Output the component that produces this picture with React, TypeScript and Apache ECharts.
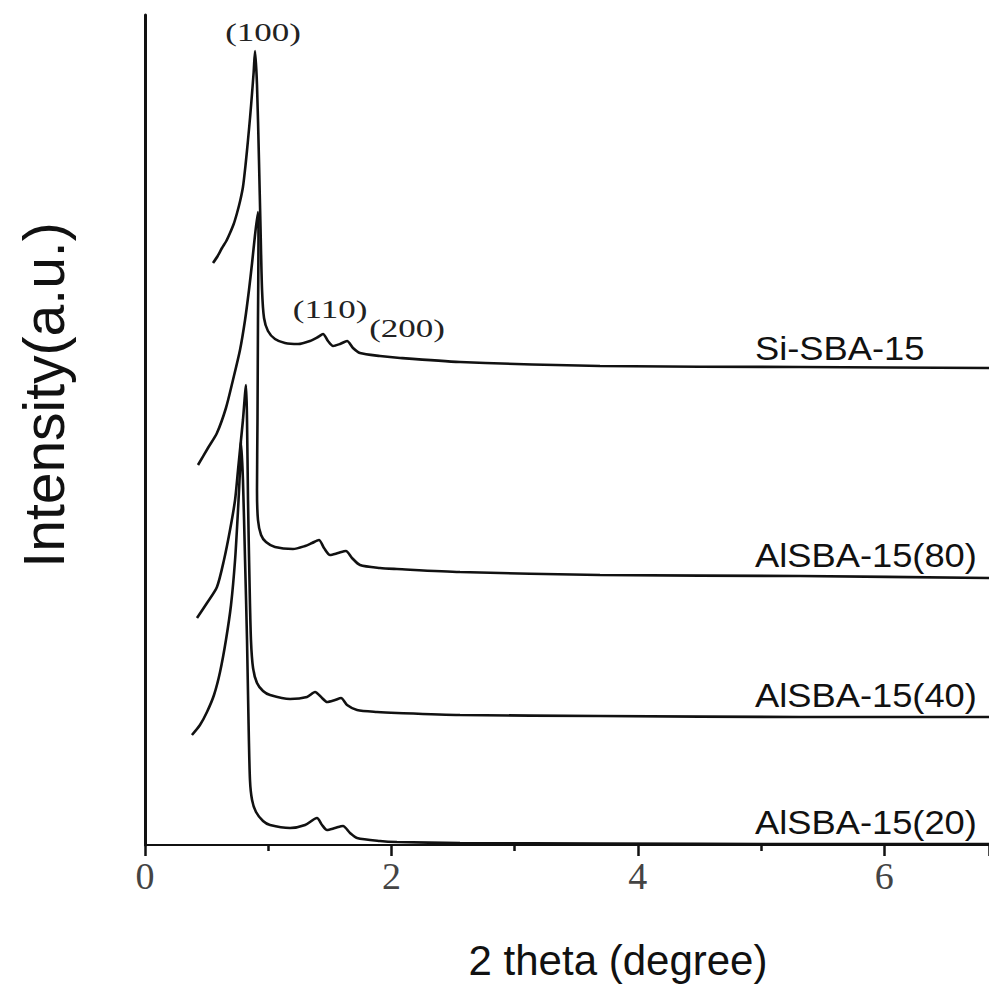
import React, { useEffect, useRef } from "react";
import * as echarts from "echarts";

// 2-theta (degree), intensity (a.u.)
const siSBA15: [number, number][] = [
  [0.552, 582], [0.59, 589], [0.625, 597], [0.66, 604], [0.69, 612], [0.72, 621], [0.747, 632], [0.772, 644],
  [0.795, 658], [0.816, 680], [0.836, 705], [0.853, 728], [0.869, 752], [0.882, 773], [0.893, 794],
  [0.909, 760], [0.925, 685], [0.938, 615], [0.95, 555], [0.966, 527], [0.998, 514], [1.055, 506], [1.136, 502],
  [1.242, 501], [1.339, 504], [1.404, 508], [1.445, 511], [1.485, 504], [1.526, 499], [1.583, 501], [1.64, 504],
  [1.688, 497], [1.745, 492], [1.907, 489], [2.07, 487], [2.557, 483], [3.693, 479], [5.317, 478], [6.85, 477],
];

const alSBA80: [number, number][] = [
  [0.43, 380], [0.511, 397], [0.584, 412], [0.657, 437], [0.714, 465], [0.771, 495], [0.812, 525], [0.844, 555],
  [0.869, 582], [0.893, 610], [0.917, 633], [0.921, 605], [0.917, 525], [0.913, 425], [0.909, 355], [0.917, 325],
  [0.942, 310], [0.982, 303], [1.055, 298], [1.201, 296], [1.299, 299], [1.356, 302], [1.412, 305], [1.453, 297],
  [1.502, 290], [1.567, 292], [1.631, 294], [1.68, 287], [1.745, 280], [1.907, 277], [2.045, 276], [2.557, 273],
  [3.693, 270], [5.317, 269], [6.85, 267],
];

const alSBA40: [number, number][] = [
  [0.422, 227], [0.503, 242], [0.584, 258], [0.641, 285], [0.69, 315], [0.731, 345], [0.755, 375], [0.779, 405],
  [0.795, 425], [0.82, 460], [0.828, 425], [0.836, 345], [0.848, 265], [0.86, 205], [0.877, 177], [0.909, 162],
  [0.958, 154], [1.015, 150], [1.177, 146], [1.315, 148], [1.38, 153], [1.437, 147], [1.477, 143], [1.542, 145],
  [1.591, 147], [1.64, 140], [1.721, 135], [1.883, 133], [2.045, 132], [2.557, 130], [3.693, 129], [5.317, 128],
  [6.85, 128],
];

const alSBA20: [number, number][] = [
  [0.381, 110], [0.446, 120], [0.503, 133], [0.56, 150], [0.609, 173], [0.657, 205], [0.698, 240], [0.731, 285],
  [0.755, 335], [0.771, 375], [0.779, 403], [0.795, 365], [0.812, 285], [0.828, 205], [0.84, 125], [0.852, 65],
  [0.869, 45], [0.901, 33], [0.958, 24], [1.015, 20], [1.177, 17], [1.299, 20], [1.396, 27], [1.437, 20],
  [1.477, 15], [1.542, 17], [1.607, 19], [1.664, 12], [1.721, 7], [1.907, 4], [2.045, 3], [2.557, 2],
  [3.693, 1.5], [5.317, 1], [6.85, 1],
];

const seriesNames = ["Si-SBA-15", "AlSBA-15(80)", "AlSBA-15(40)", "AlSBA-15(20)"];
const peakLabels = ["(100)", "(110)", "(200)"];
const xTitle = "2 theta (degree)";
const yTitle = "Intensity(a.u.)";

// anchor points (data coordinates) for the annotation texts
const seriesLabelAt: [number, number][] = [[4.951, 496], [4.951, 289], [4.951, 149], [4.951, 22]];
const peakLabelAt: [number, number][] = [[0.958, 812], [1.502, 535], [2.127, 516]];

const SANS = "'Liberation Sans', Arial, sans-serif";
const SERIF = "'Liberation Serif', 'Times New Roman', serif";

export default function App() {
  const ref = useRef<HTMLDivElement>(null);

  useEffect(() => {
    if (!ref.current) return;
    const chart = echarts.init(ref.current, null, { renderer: "svg" });
    const datasets = [siSBA15, alSBA80, alSBA40, alSBA20];

    chart.setOption({
      animation: false,
      backgroundColor: "#ffffff",
      grid: { left: 145, right: 0, top: 15, bottom: 145, containLabel: false, outerBoundsMode: "none" },
      xAxis: {
        type: "value",
        min: 0,
        max: 6.85,
        interval: 2,
        axisLine: { show: true, onZero: false, lineStyle: { color: "#111", width: 2 } },
        axisTick: { show: true, inside: false, length: 11, lineStyle: { color: "#111", width: 2.5 } },
        minorTick: { show: true, splitNumber: 2, length: 6, lineStyle: { color: "#111", width: 2.5 } },
        splitLine: { show: false },
        axisLabel: {
          margin: 12,
          fontFamily: SERIF,
          fontSize: 38,
          color: "#444",
          showMaxLabel: false,
        },
      },
      yAxis: {
        type: "value",
        min: 0,
        max: 830,
        axisLine: { show: true, onZero: false, lineStyle: { color: "#111", width: 3 } },
        axisTick: { show: false },
        axisLabel: { show: false },
        splitLine: { show: false },
      },
      series: datasets.map((d, i) => ({
        name: seriesNames[i],
        type: "line",
        data: d,
        showSymbol: false,
        symbol: "none",
        smooth: 0.25,
        lineStyle: { color: "#111", width: 2.6 },
        z: 3,
      })),
    });

    const toPx = (p: [number, number]) => chart.convertToPixel({ gridIndex: 0 }, p) as number[];

    const graphics: any[] = [];
    seriesNames.forEach((name, i) => {
      const [px, py] = toPx(seriesLabelAt[i]);
      graphics.push({
        type: "text",
        x: px,
        y: py,
        scaleX: 1.1,
        z: 10,
        style: {
          text: name,
          font: `33px ${SANS}`,
          fill: "#111",
          align: "left",
          verticalAlign: "middle",
          textAlign: "left",
          textVerticalAlign: "middle",
        },
      });
    });
    peakLabels.forEach((t, i) => {
      const [px, py] = toPx(peakLabelAt[i]);
      graphics.push({
        type: "text",
        x: px,
        y: py,
        scaleX: 1.4,
        z: 10,
        style: {
          text: t,
          font: `25px ${SERIF}`,
          fill: "#222",
          align: "center",
          verticalAlign: "middle",
          textAlign: "center",
          textVerticalAlign: "middle",
        },
      });
    });
    graphics.push({
      type: "text",
      x: 618,
      y: 960,
      z: 10,
      style: {
        text: xTitle,
        font: `42px ${SANS}`,
        fill: "#111",
        align: "center",
        verticalAlign: "middle",
        textAlign: "center",
        textVerticalAlign: "middle",
      },
    });
    graphics.push({
      type: "text",
      x: 44,
      y: 395,
      rotation: Math.PI / 2,
      z: 10,
      style: {
        text: yTitle,
        font: `57px ${SANS}`,
        fill: "#111",
        align: "center",
        verticalAlign: "middle",
        textAlign: "center",
        textVerticalAlign: "middle",
      },
    });
    chart.setOption({ graphic: graphics });

    return () => chart.dispose();
  }, []);

  return (
    <div
      ref={ref}
      style={{ position: "fixed", left: 0, top: 0, width: 989, height: 990, background: "#fff" }}
    />
  );
}
